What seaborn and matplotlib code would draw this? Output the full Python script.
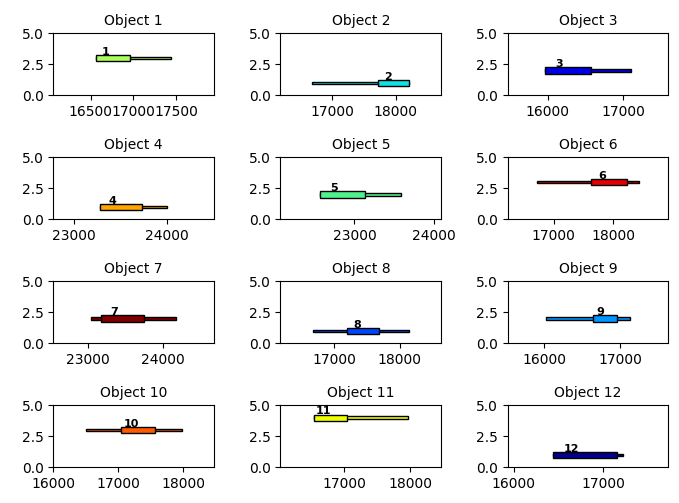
import matplotlib
matplotlib.use("Agg")
import matplotlib.pyplot as plt
import seaborn as sns

# one entry per object
object_ids = [1, 2, 3, 4, 5, 6, 7, 8, 9, 10, 11, 12]
levels = [3, 1, 2, 1, 2, 3, 2, 1, 2, 3, 4, 1]
line_start = [16560, 16684, 15965, 23279, 22570, 16728, 23036, 16671, 16022, 16500, 16544, 16434]
line_end = [17445, 18220, 17105, 24007, 23590, 18422, 24178, 18137, 17130, 17975, 17964, 17224]
box_start = [16560, 17726, 15965, 23279, 22570, 17628, 23178, 17198, 16643, 17036, 16544, 16434]
box_end = [16955, 18220, 16579, 23734, 23135, 18228, 23747, 17685, 16957, 17574, 17051, 17147]
colors = ["#a8ff5a", "#10e0e0", "#0000e6", "#ffa500", "#50f08c", "#e60000",
          "#800000", "#0046ff", "#0096ff", "#ff5a00", "#f0ff00", "#00008c"]
y_ticks = [0.0, 2.5, 5.0]


def draw_object(ax, i, color):
    y = levels[i]
    ax.barh(y, line_end[i] - line_start[i], left=line_start[i], height=0.2,
            color=color, edgecolor="black", linewidth=1)
    ax.barh(y, box_end[i] - box_start[i], left=box_start[i], height=0.5,
            color=color, edgecolor="black", linewidth=1)
    label_x = box_start[i] + 0.3 * (box_end[i] - box_start[i])
    ax.text(label_x, y + 0.1, str(object_ids[i]), ha="center", va="bottom",
            fontsize=8, fontweight="bold")
    lo = min(line_start[i], box_start[i]) - 500
    hi = max(line_end[i], box_end[i]) + 500
    ax.set_xlim(lo, hi)
    ax.set_ylim(0, 5)
    ax.set_yticks(y_ticks)
    ax.set_title(f"Object {object_ids[i]}", fontsize=10)


def main():
    palette = sns.color_palette(colors)
    fig, axes = plt.subplots(4, 3, figsize=(6.79, 5.03), dpi=100)
    for i, ax in enumerate(axes.flat):
        draw_object(ax, i, palette[i])
    fig.subplots_adjust(left=0.0785, right=0.9843, top=0.9338, bottom=0.071,
                        wspace=0.414, hspace=1.0)
    fig.savefig("out.png", dpi=100)


if __name__ == "__main__":
    main()
